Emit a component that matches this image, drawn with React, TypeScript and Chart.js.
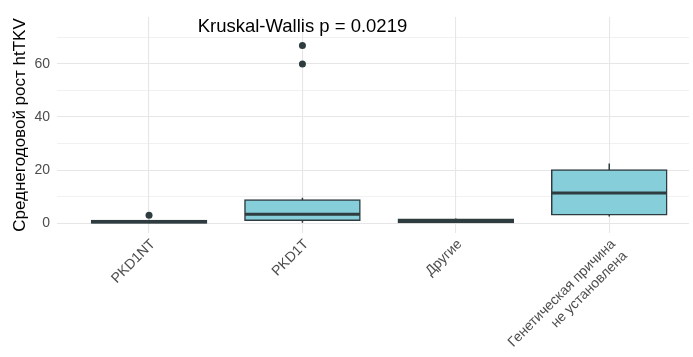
import React, { useEffect, useRef } from 'react';
import { Chart, registerables } from 'chart.js';

Chart.register(...registerables);

// ---- data ----
const categories: string[][] = [
  ['PKD1NT'],
  ['PKD1T'],
  ['Другие'],
  ['Генетическая причина', 'не установлена'],
];
const whiskerLow = [0.0, 0.2, 0.3, 2.5];
const q1 = [0.1, 1.1, 0.3, 3.2];
const medians = [0.5, 3.4, 1.0, 11.4];
const q3 = [1.0, 8.7, 1.5, 20.0];
const whiskerHigh = [1.3, 9.6, 1.8, 22.5];
const outliers: number[][] = [[3], [60, 67], [], []];
const yTickValues = [0, 10, 20, 30, 40, 50, 60, 70];
const yLabelEvery = 20;
const yTitle = 'Среднегодовой рост htTKV';
const annotationText = 'Kruskal-Wallis p = 0.0219';
const annotationX = 2;
const annotationY = 74;

const FONT = '"Liberation Sans", Arial, sans-serif';
const BOX_FILL = '#87CEDB';
const DARK = '#2E3C40';
const GRID = '#E6E6E6';
const TICK_COLOR = '#4D4D4D';
const HALF_BOX = 0.375;

const annotationPlugin = {
  id: 'kwAnnotation',
  afterDraw(chart: any) {
    const { ctx, scales } = chart;
    ctx.save();
    ctx.font = `18.5px ${FONT}`;
    ctx.fillStyle = '#000000';
    ctx.textAlign = 'center';
    ctx.textBaseline = 'middle';
    ctx.fillText(
      annotationText,
      scales.x.getPixelForValue(annotationX),
      scales.y.getPixelForValue(annotationY)
    );
    ctx.restore();
  },
};

export default function App() {
  const ref = useRef<HTMLCanvasElement | null>(null);

  useEffect(() => {
    document.body.style.margin = '0';
    const canvas = ref.current;
    if (!canvas) return;

    const boxData = categories.map((_, i) => ({ x: i + 1, y: [q1[i], q3[i]] }));
    const whiskerData: any[] = [];
    categories.forEach((_, i) => {
      whiskerData.push({ x: i + 1, y: whiskerLow[i] });
      whiskerData.push({ x: i + 1, y: q1[i] });
      whiskerData.push({ x: i + 1, y: null });
      whiskerData.push({ x: i + 1, y: q3[i] });
      whiskerData.push({ x: i + 1, y: whiskerHigh[i] });
      whiskerData.push({ x: i + 1, y: null });
    });
    const medianData: any[] = [];
    categories.forEach((_, i) => {
      medianData.push({ x: i + 1 - HALF_BOX, y: medians[i] });
      medianData.push({ x: i + 1 + HALF_BOX, y: medians[i] });
      medianData.push({ x: i + 1, y: null });
    });
    const outlierData: any[] = [];
    outliers.forEach((arr, i) => arr.forEach((v) => outlierData.push({ x: i + 1, y: v })));

    const chart = new Chart(canvas, {
      type: 'bar',
      data: {
        datasets: [
          {
            type: 'scatter',
            data: outlierData,
            pointRadius: 3.5,
            pointBackgroundColor: DARK,
            pointBorderColor: DARK,
            pointBorderWidth: 0,
            order: 0,
          } as any,
          {
            type: 'line',
            data: medianData,
            borderColor: DARK,
            borderWidth: 3,
            pointRadius: 0,
            spanGaps: false,
            order: 1,
          } as any,
          {
            type: 'bar',
            data: boxData,
            backgroundColor: BOX_FILL,
            borderColor: DARK,
            borderWidth: 1.5,
            borderSkipped: false,
            inflateAmount: 0.75,
            barPercentage: 0.75,
            categoryPercentage: 1,
            order: 2,
          } as any,
          {
            type: 'line',
            data: whiskerData,
            borderColor: DARK,
            borderWidth: 1.5,
            pointRadius: 0,
            spanGaps: false,
            order: 3,
          } as any,
        ],
      },
      options: {
        responsive: false,
        animation: false,
        layout: { padding: { top: 17, left: 0, right: 0, bottom: 0 } },
        plugins: {
          legend: { display: false },
          tooltip: { enabled: false },
        },
        scales: {
          x: {
            type: 'linear',
            min: 0.4,
            max: 4.52,
            offset: false,
            border: { display: false },
            grid: { color: GRID, lineWidth: 1.1, drawTicks: false, offset: false },
            afterBuildTicks: (scale: any) => {
              scale.ticks = categories.map((_, i) => ({ value: i + 1 }));
            },
            afterFit: (scale: any) => {
              scale.height = 124;
            },
            ticks: {
              autoSkip: false,
              minRotation: 45,
              maxRotation: 45,
              padding: 3,
              labelOffset: 4,
              color: TICK_COLOR,
              font: { family: FONT, size: 14 },
              callback: (v: any) => categories[Math.round(Number(v)) - 1] ?? '',
            },
          },
          y: {
            type: 'linear',
            min: -3.7,
            max: 77.7,
            border: { display: false },
            grid: {
              color: GRID,
              drawTicks: false,
              lineWidth: (ctx: any) =>
                ctx.tick && ctx.tick.value % yLabelEvery === 0 ? 1.1 : 0.55,
            },
            afterBuildTicks: (scale: any) => {
              scale.ticks = yTickValues.map((v) => ({ value: v }));
            },
            afterFit: (scale: any) => {
              scale.width = 57;
            },
            ticks: {
              padding: 7,
              color: TICK_COLOR,
              font: { family: FONT, size: 14 },
              callback: (v: any) => (Number(v) % yLabelEvery === 0 ? String(v) : ''),
            },
            title: {
              display: true,
              text: yTitle,
              color: '#000000',
              font: { family: FONT, size: 17 },
              padding: { top: 10, bottom: 0 },
            },
          },
        },
      },
      plugins: [annotationPlugin],
    } as any);

    return () => chart.destroy();
  }, []);

  return (
    <div style={{ width: 693, height: 357 }}>
      <canvas ref={ref} width={693} height={357} />
    </div>
  );
}
